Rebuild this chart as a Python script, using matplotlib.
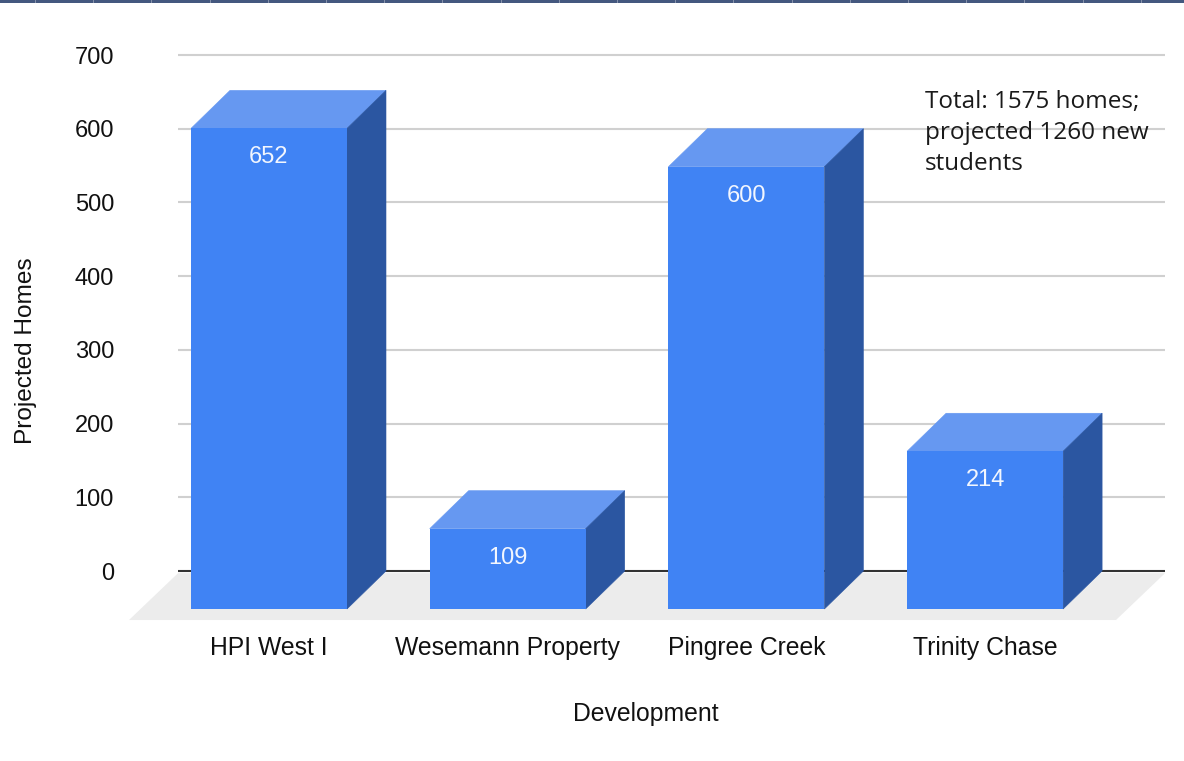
import matplotlib
matplotlib.use("Agg")
import matplotlib.pyplot as plt
from matplotlib.patches import Rectangle

categories = ["HPI West I", "Wesemann Property", "Pingree Creek", "Trinity Chase"]
homes = [652, 109, 600, 214]
y_ticks = [0, 100, 200, 300, 400, 500, 600, 700]

W, H = 1184, 761
FRONT = "#4083f4"
TOP = "#6698f1"
SIDE = "#2b56a1"
FLOOR = "#ececec"

# 3D look: back wall is the axes, bars are pushed down/left by this depth
px_per_cat = 238.7
px_per_unit = 0.737
depth_x = 39 / px_per_cat
depth_y = 38 / px_per_unit
half = 78 / px_per_cat

plt.rcParams["font.family"] = ["Liberation Sans", "DejaVu Sans"]

fig = plt.figure(figsize=(W / 100, H / 100), dpi=100, facecolor="white")
ax = fig.add_axes([178 / W, 1 - 571 / H, (1165 - 178) / W, (571 - 55) / H])
ax.set_xlim((178 - 308) / px_per_cat, (1165 - 308) / px_per_cat)
ax.set_ylim(0, 700)
for s in ax.spines.values():
    s.set_visible(False)

# rejilla y linea base
for v in y_ticks[1:]:
    ax.axhline(v, color="#d0d0d0", linewidth=1.5, zorder=1, clip_on=False,
               solid_capstyle="butt")
ax.axhline(0, color="#333333", linewidth=1.5, zorder=2, clip_on=False,
           solid_capstyle="butt")

# piso
x0, x1 = ax.get_xlim()
floor_y = -49 / px_per_unit
floor_dx = 49 / px_per_cat
ax.fill([x0, x1, x1 - floor_dx, x0 - floor_dx], [-3, -3, floor_y, floor_y],
        color=FLOOR, linewidth=0, zorder=1.5, clip_on=False)

# barras
for i, v in enumerate(homes):
    left = i - half - depth_x
    right = i + half - depth_x
    top = v - depth_y
    ax.fill([left, right, right + depth_x, left + depth_x],
            [top, top, top + depth_y, top + depth_y],
            color=TOP, linewidth=0.4, zorder=3, clip_on=False)
    ax.fill([right, right + depth_x, right + depth_x, right],
            [-depth_y, 0, top + depth_y, top],
            color=SIDE, linewidth=0.4, zorder=3, clip_on=False)
    ax.bar(i - depth_x, v, width=2 * half, bottom=-depth_y, color=FRONT,
           linewidth=0, zorder=3.1, clip_on=False)
    ax.text(i - depth_x, top - 29 / px_per_unit, str(v), color="#f2f6fe",
            fontsize=17, ha="center", va="center", zorder=4)

ax.set_yticks(y_ticks)
ax.set_yticklabels([str(t) for t in y_ticks])
ax.set_xticks([i - depth_x for i in range(len(categories))])
ax.set_xticklabels(categories)
ax.tick_params(axis="y", length=0, pad=46, labelsize=17, labelcolor="#111111")
ax.tick_params(axis="x", length=0, pad=47, labelsize=17.8, labelcolor="#111111")

fig.text(646 / W, 1 - 714 / H, "Development", fontsize=17.8, color="#111111",
         ha="center", va="center")
fig.text(26 / W, 1 - 351 / H, "Projected Homes", fontsize=17.6, color="#111111",
         rotation=90, ha="center", va="center")

fig.text(925 / W, 1 - 133 / H, "Total: 1575 homes;\nprojected 1260 new\nstudents",
         fontsize=17.5, family=["Open Sans", "DejaVu Sans"], color="#1a1a1a",
         ha="left", va="center", linespacing=1.41, zorder=5)

# franja oscura arriba
fig.add_artist(Rectangle((0, 1 - 3 / H), 1, 3 / H, transform=fig.transFigure,
                         facecolor="#44587f", edgecolor="none"))
for k in range(21):
    x = (35 + 58.2 * k) / W
    fig.add_artist(Rectangle((x, 1 - 3 / H), 1 / W, 3 / H, transform=fig.transFigure,
                             facecolor="#8591aa", edgecolor="none"))

fig.savefig("out.png", dpi=100)
